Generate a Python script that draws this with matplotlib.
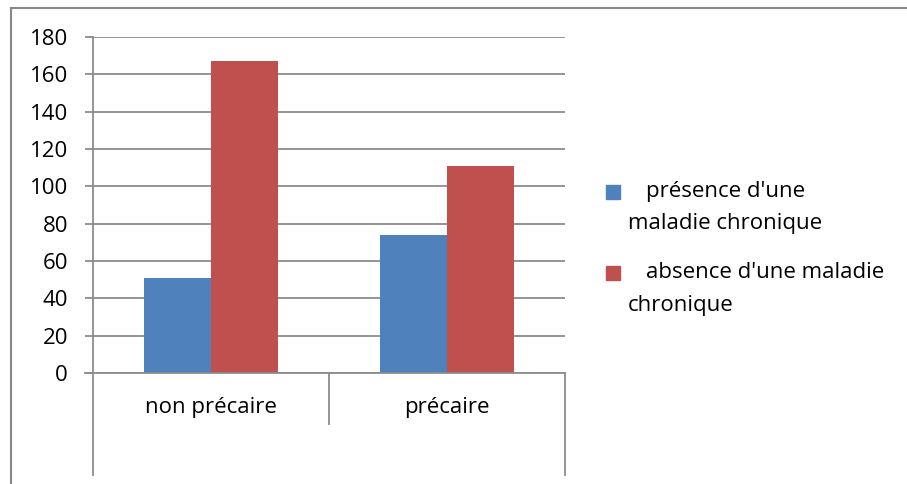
import matplotlib.pyplot as plt
from matplotlib.patches import Rectangle
import numpy as np

# data
categories = ['non précaire', 'précaire']
presence = [51, 74]
absence = [167, 111]
series_labels = ["présence d'une\nmaladie chronique", "absence d'une maladie\nchronique"]
series_colors = ['#4F81BD', '#C0504D']
yticks = [0, 20, 40, 60, 80, 100, 120, 140, 160, 180]

plt.rcParams['font.family'] = ['Open Sans', 'DejaVu Sans']
grid_col = '#8C8C8C'
fs = 16

W, H = 907, 484
fig = plt.figure(figsize=(W / 100, H / 100), dpi=100)
fig.patch.set_facecolor('white')

# plot area in pixels: x 93..565, y 37..373
ax = fig.add_axes([93 / W, 1 - 373 / H, (565 - 93) / W, (373 - 37) / H])

x = np.arange(len(categories))
bw = 0.285
ax.bar(x - bw / 2, presence, bw, color=series_colors[0], zorder=3)
ax.bar(x + bw / 2, absence, bw, color=series_colors[1], zorder=3)

ax.set_xlim(-0.5, len(categories) - 0.5)
ax.set_ylim(0, 180)
ax.set_yticks(yticks)
ax.set_yticklabels([str(v) for v in yticks], fontsize=fs)
ax.tick_params(axis='y', length=6, width=1.3, color=grid_col, pad=12)
ax.set_xticks([])
ax.yaxis.grid(True, color=grid_col, linewidth=1.3, zorder=0)

for s in ['top', 'right', 'bottom']:
    ax.spines[s].set_visible(False)
ax.spines['left'].set_color(grid_col)
ax.spines['left'].set_linewidth(1.3)

# horizontal axis line with extension to the left
ax.plot([-0.5 - 8 / 472 * 2, len(categories) - 0.5], [0, 0], color=grid_col,
        lw=1.3, clip_on=False, zorder=4)

# category separator lines under the axis
trans = ax.get_xaxis_transform()
depth_long = -(475 - 373) / (373 - 37)
depth_mid = -(424 - 373) / (373 - 37)
for xv, d in [(-0.5, depth_long), (0.5, depth_mid), (1.5, depth_long)]:
    ax.plot([xv, xv], [0, d], color=grid_col, lw=1.3, transform=trans, clip_on=False)

for i, c in enumerate(categories):
    ax.text(x[i], -(408 - 373) / (373 - 37), c, transform=trans,
            ha='center', va='center', fontsize=fs)

# legend drawn by hand to mimic the wrapped Excel legend
leg_y = [192, 273]
for i, lab in enumerate(series_labels):
    y0 = leg_y[i]
    fig.patches.append(Rectangle((606 / W, 1 - (y0 + 7) / H), 14 / W, 14 / H,
                                 transform=fig.transFigure, color=series_colors[i]))
    first, second = lab.split('\n')
    fig.text(646 / W, 1 - y0 / H, first, fontsize=fs, va='center', ha='left')
    fig.text(628 / W, 1 - (y0 + 32) / H, second, fontsize=fs, va='center', ha='left')

# outer chart frame (left and top edges visible)
fig.add_artist(plt.Line2D([10.5 / W, 10.5 / W], [0, 1 - 7.5 / H], color='#888888',
                          lw=1.5, transform=fig.transFigure))
fig.add_artist(plt.Line2D([10.5 / W, 1], [1 - 7.5 / H, 1 - 7.5 / H], color='#888888',
                          lw=1.5, transform=fig.transFigure))

fig.savefig('out.png', dpi=100)
